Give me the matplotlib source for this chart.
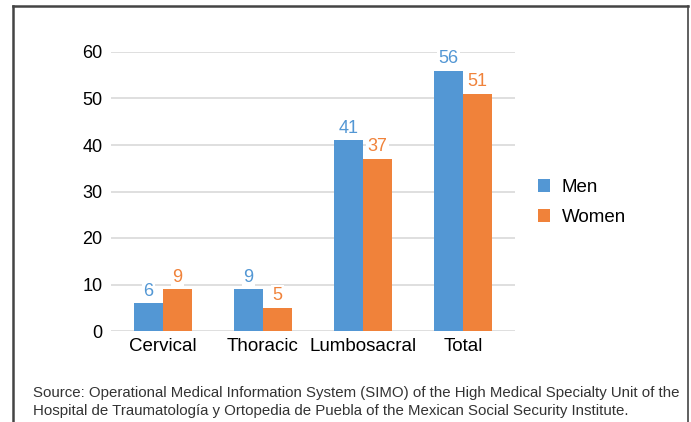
import matplotlib
matplotlib.use("Agg")
import matplotlib.pyplot as plt
import numpy as np
from matplotlib.lines import Line2D

plt.rcParams['font.family'] = ['Liberation Sans', 'DejaVu Sans']

categories = ['Cervical', 'Thoracic', 'Lumbosacral', 'Total']
men = [6, 9, 41, 56]
women = [9, 5, 37, 51]
yticks = [0, 10, 20, 30, 40, 50, 60]

blue = '#5397D4'
orange = '#F0823A'

fig = plt.figure(figsize=(6.91, 4.22), dpi=100)
ax = fig.add_axes([111 / 691, 1 - 331 / 422, 404 / 691, 279 / 422])

x = np.arange(len(categories))
w = 0.29
b1 = ax.bar(x - w / 2, men, w, color=blue, label='Men', zorder=2)
b2 = ax.bar(x + w / 2, women, w, color=orange, label='Women', zorder=2)

# data labels, white box so the gridline is cut behind them
for bars, col in ((b1, blue), (b2, orange)):
    for r in bars:
        ax.annotate(str(int(r.get_height())),
                    (r.get_x() + r.get_width() / 2, r.get_height()),
                    xytext=(0, 2.5), textcoords='offset points',
                    ha='center', va='bottom', fontsize=13, color=col,
                    bbox=dict(boxstyle='square,pad=0.1', fc='white', ec='none'),
                    zorder=3, annotation_clip=False)

ax.set_xlim(-0.52, 3.52)
ax.set_ylim(0, 60)
ax.set_yticks(yticks)
ax.set_xticks(x)
ax.set_xticklabels(categories, fontsize=13.5)
ax.tick_params(axis='y', labelsize=13, length=0, pad=6)
ax.tick_params(axis='x', length=0, pad=5)
ax.grid(axis='y', color='#d9d9d9', linewidth=1.2, zorder=0)
ax.set_axisbelow(True)
for s in ax.spines.values():
    s.set_visible(False)

ax.legend(loc='center left', bbox_to_anchor=(1.025, 0.46), frameon=False,
          fontsize=13.5, handlelength=0.65, handleheight=0.65,
          labelspacing=0.7, handletextpad=0.6, borderaxespad=0.3)

# frame around the figure (open at bottom)
lc = '#444444'
fig.add_artist(Line2D([13 / 691, 13 / 691], [0, 1 - 6 / 422], color=lc, lw=1.8))
fig.add_artist(Line2D([13 / 691, 688 / 691], [1 - 6 / 422, 1 - 6 / 422], color=lc, lw=1.8))
fig.add_artist(Line2D([688 / 691, 688 / 691], [0, 1 - 6 / 422], color=lc, lw=1.2))

fig.text(33 / 691, 1 - 402 / 422,
         'Source: Operational Medical Information System (SIMO) of the High Medical Specialty Unit of the\n'
         'Hospital de Traumatología y Ortopedia de Puebla of the Mexican Social Security Institute.',
         fontsize=10.8, color='#333333', va='center', ha='left', linespacing=1.35)

fig.savefig('out.png', dpi=100)
